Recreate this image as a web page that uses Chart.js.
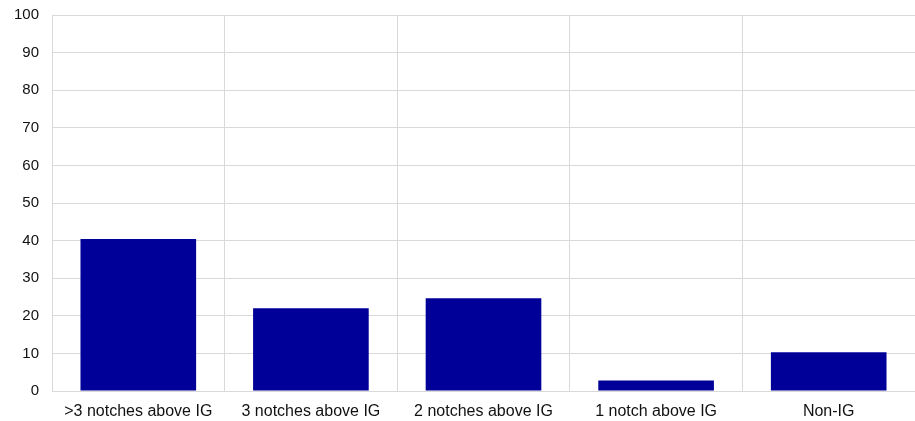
<!DOCTYPE html>
<html>
<head>
<meta charset="utf-8">
<script src="https://cdn.jsdelivr.net/npm/chart.js@4/dist/chart.umd.min.js"></script>
<style>
  html, body { margin: 0; padding: 0; background: #fff; }
  #chart { display: block; }
</style>
</head>
<body>
<canvas id="chart" width="915" height="421"></canvas>
<script>
  // Data
  const categories = [">3 notches above IG", "3 notches above IG", "2 notches above IG", "1 notch above IG", "Non-IG"];
  const shares = [40.4, 22.0, 24.7, 2.8, 10.3];
  const yTicks = [0, 10, 20, 30, 40, 50, 60, 70, 80, 90, 100];

  Chart.defaults.font.family = "'Liberation Sans', Arial, sans-serif";
  Chart.defaults.color = "#111";

  const ctx = document.getElementById("chart").getContext("2d");
  const chart = new Chart(ctx, {
    type: "bar",
    data: {
      labels: categories,
      datasets: [
        {
          data: shares,
          backgroundColor: "#000099",
          borderWidth: 0,
          barPercentage: 0.67,
          categoryPercentage: 1,
        },
      ],
    },
    options: {
      responsive: false,
      animation: false,
      layout: { padding: { top: 15, right: 0, left: 0, bottom: 0 } },
      plugins: {
        legend: { display: false },
        tooltip: { enabled: false },
      },
      scales: {
        x: {
          grid: { color: "#d9d9d9", lineWidth: 1, drawTicks: false, offset: true },
          border: { color: "#d9d9d9" },
          ticks: { padding: 11, maxRotation: 0, font: { size: 16 } },
          afterFit: (scale) => { scale.height = 30; },
        },
        y: {
          min: yTicks[0],
          max: yTicks[yTicks.length - 1],
          afterBuildTicks: (scale) => { scale.ticks = yTicks.map((v) => ({ value: v })); },
          grid: { color: "#d9d9d9", lineWidth: 1, drawTicks: false },
          border: { color: "#d9d9d9" },
          ticks: { padding: 13, font: { size: 15 } },
          afterFit: (scale) => {
            scale.width = 52;
            scale.paddingTop = 0;
            scale.paddingBottom = 0;
          },
        },
      },
    },
  });
</script>
</body>
</html>
